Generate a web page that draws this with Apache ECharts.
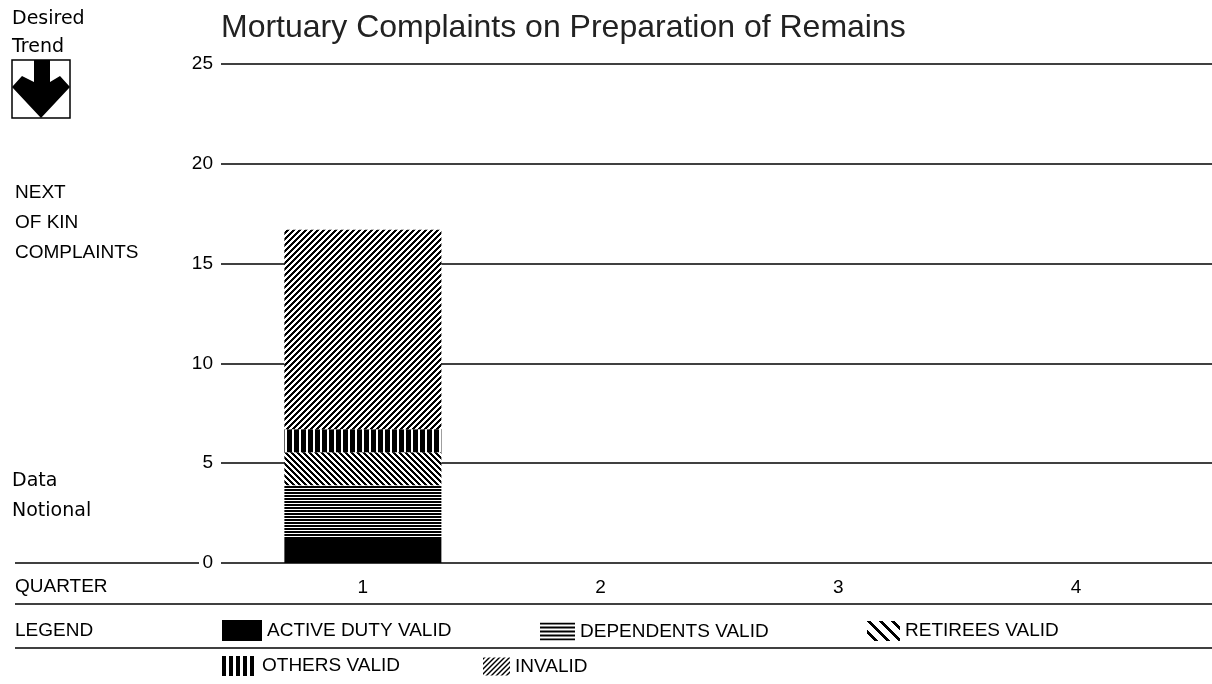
<!DOCTYPE html>
<html><head><meta charset="utf-8">
<script src="https://cdn.jsdelivr.net/npm/echarts@6/dist/echarts.min.js"></script>
<style>html,body{margin:0;padding:0;background:#fff}#c{width:1212px;height:684px}</style>
</head><body><div id="c"></div>
<script>
// ---- data ----
const quarters = ['1', '2', '3', '4'];
const activeDutyValid = [1.2, null, null, null];
const dependentsValid = [2.7, null, null, null];
const retireesValid = [1.65, null, null, null];
const othersValid = [1.15, null, null, null];
const invalidComplaints = [10.0, null, null, null];
const yMin = 0, yMax = 25, yInterval = 5;
const seriesNames = ['ACTIVE DUTY VALID', 'DEPENDENTS VALID', 'RETIREES VALID', 'OTHERS VALID', 'INVALID'];

// ---- patterns ----
function pat(w, h, isBlack) {
  const c = document.createElement('canvas');
  c.width = w; c.height = h;
  const ctx = c.getContext('2d');
  const img = ctx.createImageData(w, h);
  for (let y = 0; y < h; y++) for (let x = 0; x < w; x++) {
    const i = (y * w + x) * 4, v = isBlack(x, y) ? 0 : 255;
    img.data[i] = v; img.data[i + 1] = v; img.data[i + 2] = v; img.data[i + 3] = 255;
  }
  ctx.putImageData(img, 0, 0);
  return { image: c, repeat: 'repeat' };
}
const fills = [
  '#000',
  pat(1, 3, (x, y) => y % 3 < 2),
  pat(6, 6, (x, y) => ((x - y + 60) % 6) < 3),
  pat(7, 1, (x) => x % 7 < 5),
  pat(6, 6, (x, y) => ((x + y) % 6) < 3)
];
const iconFills = [
  '#000',
  pat(1, 4, (x, y) => y % 4 < 2),
  pat(12, 12, (x, y) => ((x - y + 120) % 12) < 4),
  pat(7, 1, (x) => x % 7 < 4),
  pat(5, 5, (x, y) => ((x + y) % 5) < 2)
];
const dataArrays = [activeDutyValid, dependentsValid, retireesValid, othersValid, invalidComplaints];

const FONT = '"Liberation Sans", Arial, sans-serif';
const FONT2 = '"DejaVu Sans", sans-serif';
const chart = echarts.init(document.getElementById('c'), null, { renderer: 'canvas' });

const legendPos = [
  { left: 222, top: 620, w: 40, h: 21 },
  { left: 540, top: 622, w: 35, h: 18 },
  { left: 867, top: 621, w: 33, h: 20 },
  { left: 222, top: 656, w: 35, h: 20 },
  { left: 483, top: 657, w: 27, h: 18 }
];

function txt(t, x, y, font) {
  return { type: 'text', x: x, y: y, style: { text: t, font: '19px ' + (font || FONT), fill: '#000', verticalAlign: 'middle' } };
}
function hline(x1, x2, y, w) {
  return { type: 'line', shape: { x1: x1, y1: y, x2: x2, y2: y }, style: { stroke: '#000', lineWidth: w || 1.5 } };
}

chart.setOption({
  animation: false,
  backgroundColor: '#fff',
  title: {
    text: 'Mortuary Complaints on Preparation of Remains',
    left: 221, top: 12, padding: 0,
    textStyle: { fontFamily: FONT, fontSize: 32, fontWeight: 'normal', color: '#222' }
  },
  grid: [
    { left: 221, right: 0, top: 64, bottom: 121 },
    { left: 244, right: 17, top: 64, bottom: 121 }
  ],
  xAxis: [
    { gridIndex: 0, type: 'value', show: false },
    { gridIndex: 1, type: 'category', data: quarters,
      axisLine: { show: false }, axisTick: { show: false },
      axisLabel: { margin: 15, fontFamily: FONT, fontSize: 19, color: '#000' } }
  ],
  yAxis: [
    { gridIndex: 0, type: 'value', min: yMin, max: yMax, interval: yInterval,
      axisLine: { show: false }, axisTick: { show: false },
      axisLabel: { margin: 8, fontFamily: FONT, fontSize: 19, color: '#000' },
      splitLine: { lineStyle: { color: '#000', width: 1.5 } } },
    { gridIndex: 1, type: 'value', min: yMin, max: yMax, interval: yInterval, show: false, splitLine: { show: false } }
  ],
  legend: seriesNames.map((n, i) => ({
    left: legendPos[i].left, top: legendPos[i].top, padding: 0,
    itemWidth: legendPos[i].w, itemHeight: legendPos[i].h,
    selectedMode: false, icon: 'rect',
    textStyle: { fontFamily: FONT, fontSize: 19, color: '#000' },
    data: [{ name: n, itemStyle: { color: iconFills[i], borderWidth: 0 } }]
  })),
  series: seriesNames.map((n, i) => ({
    name: n, type: 'bar', stack: 'q', xAxisIndex: 1, yAxisIndex: 1,
    barWidth: 157, data: dataArrays[i],
    itemStyle: { color: fills[i] }
  })),
  graphic: [
    txt('Desired', 12, 19, FONT2), txt('Trend', 12, 47, FONT2),
    { type: 'rect', shape: { x: 12, y: 60, width: 58, height: 58 }, style: { fill: '#fff', stroke: '#000', lineWidth: 1.5 } },
    { type: 'polygon', shape: { points: [[34, 60], [50, 60], [50, 82], [60, 76], [70, 87], [41, 118], [12, 87], [22, 76], [34, 82]] }, style: { fill: '#000' } },
    txt('NEXT', 15, 193), txt('OF KIN', 15, 223), txt('COMPLAINTS', 15, 253),
    txt('Data', 12, 481, FONT2), txt('Notional', 12, 511, FONT2),
    hline(15, 199, 563),
    txt('QUARTER', 15, 587),
    hline(15, 1212, 604),
    txt('LEGEND', 15, 631),
    hline(15, 1212, 648)
  ]
});
</script>
</body></html>
